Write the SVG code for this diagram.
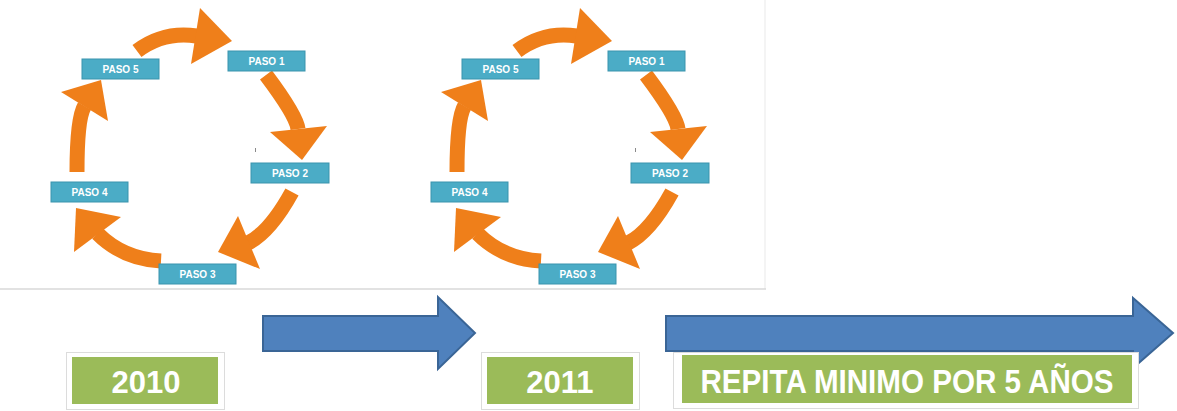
<svg xmlns="http://www.w3.org/2000/svg" width="1177" height="411" viewBox="0 0 1177 411">
<defs>
<style>
.paso rect{fill:#4BACC6;stroke:#3B94AD;stroke-width:1}
.paso text{font-family:"Liberation Sans",Arial,sans-serif;font-weight:bold;font-size:10px;fill:#ffffff;text-anchor:middle}
.shaft{fill:none;stroke:#EF7F1A;stroke-width:15;stroke-linecap:butt}
.head{fill:#EF7F1A}
.big{fill:#4F81BD;stroke:#3A6596;stroke-width:2}
.frame{fill:#ffffff;stroke:#DCDCDC;stroke-width:1}
.green{fill:#9BBB59}
.year{font-family:"Liberation Sans",Arial,sans-serif;font-weight:bold;fill:#ffffff;text-anchor:middle}
.edge{stroke:#D9D9D9;stroke-width:1.5;fill:none}
.tick{stroke:#8A8A8A;stroke-width:1}
</style>
</defs>
<rect x="0" y="0" width="1177" height="411" fill="#ffffff"/>
<g id="frame-lines">
<line class="edge" x1="0" y1="289" x2="766" y2="289"/>
<line class="edge" x1="765" y1="0" x2="765" y2="289" stroke-opacity="0.4"/>
<line class="tick" x1="255.5" y1="148" x2="255.5" y2="152"/>
<line class="tick" x1="635.5" y1="148" x2="635.5" y2="152"/>
</g>
<g id="connectors">
<g id="cycle1-arrows">
<path class="shaft" d="M137,51 Q163.6,31 196.5,36"/>
<polygon class="head" points="200,8 232,41 191,64"/>
<path class="shaft" d="M266,75 Q296.4,115.5 298,129"/>
<polygon class="head" points="270,132 302,160 327,126"/>
<path class="shaft" d="M292,192 Q270,232 248,243"/>
<polygon class="head" points="238,216 218,252 260,269"/>
<path class="shaft" d="M161,261 Q123,259 97.5,233.5"/>
<polygon class="head" points="121,217 76,208 74,252"/>
<path class="shaft" d="M77,172 Q77,118.5 84.5,106"/>
<polygon class="head" points="61,92 101,80 108,121"/>
</g>
<g id="cycle2-arrows" transform="translate(380,0)">
<path class="shaft" d="M137,51 Q163.6,31 196.5,36"/>
<polygon class="head" points="200,8 232,41 191,64"/>
<path class="shaft" d="M266,75 Q296.4,115.5 298,129"/>
<polygon class="head" points="270,132 302,160 327,126"/>
<path class="shaft" d="M292,192 Q270,232 248,243"/>
<polygon class="head" points="238,216 218,252 260,269"/>
<path class="shaft" d="M161,261 Q123,259 97.5,233.5"/>
<polygon class="head" points="121,217 76,208 74,252"/>
<path class="shaft" d="M77,172 Q77,118.5 84.5,106"/>
<polygon class="head" points="61,92 101,80 108,121"/>
</g>
<g id="timeline-arrows">
<polygon class="big" points="263,316 438,316 438,297 475,333 438,369 438,351 263,351"/>
<polygon class="big" points="666,316 1133,316 1133,298 1173,333 1133,368 1133,351 666,351"/>
</g>
</g>
<g id="c1-paso1" class="paso"><rect x="228" y="51" width="77" height="20"/><text x="266.5" y="64.5">PASO 1</text></g>
<g id="c1-paso2" class="paso"><rect x="251" y="163" width="78" height="20"/><text x="290" y="176.5">PASO 2</text></g>
<g id="c1-paso3" class="paso"><rect x="159" y="264" width="77" height="20"/><text x="197.5" y="277.5">PASO 3</text></g>
<g id="c1-paso4" class="paso"><rect x="51" y="182" width="77" height="20"/><text x="89.5" y="195.5">PASO 4</text></g>
<g id="c1-paso5" class="paso"><rect x="82" y="59" width="77" height="20"/><text x="120.5" y="72.5">PASO 5</text></g>
<g id="c2-paso1" class="paso"><rect x="608" y="51" width="77" height="20"/><text x="646.5" y="64.5">PASO 1</text></g>
<g id="c2-paso2" class="paso"><rect x="631" y="163" width="78" height="20"/><text x="670" y="176.5">PASO 2</text></g>
<g id="c2-paso3" class="paso"><rect x="539" y="264" width="77" height="20"/><text x="577.5" y="277.5">PASO 3</text></g>
<g id="c2-paso4" class="paso"><rect x="431" y="182" width="77" height="20"/><text x="469.5" y="195.5">PASO 4</text></g>
<g id="c2-paso5" class="paso"><rect x="462" y="59" width="77" height="20"/><text x="500.5" y="72.5">PASO 5</text></g>
<g id="year-2010">
<rect class="frame" x="66.5" y="352.5" width="158" height="57"/>
<rect class="green" x="72" y="357" width="146" height="47"/>
<text class="year" x="146" y="393" font-size="31">2010</text>
</g>
<g id="year-2011">
<rect class="frame" x="481.5" y="352.5" width="158" height="57"/>
<rect class="green" x="487" y="357" width="146" height="47"/>
<text class="year" x="560" y="393" font-size="31">2011</text>
</g>
<g id="repita">
<rect class="frame" x="673.5" y="352.5" width="465" height="56"/>
<rect class="green" x="682" y="355" width="450" height="48"/>
<text class="year" x="907" y="393" font-size="33" textLength="413" lengthAdjust="spacingAndGlyphs">REPITA MINIMO  POR 5 AÑOS</text>
</g>
</svg>
